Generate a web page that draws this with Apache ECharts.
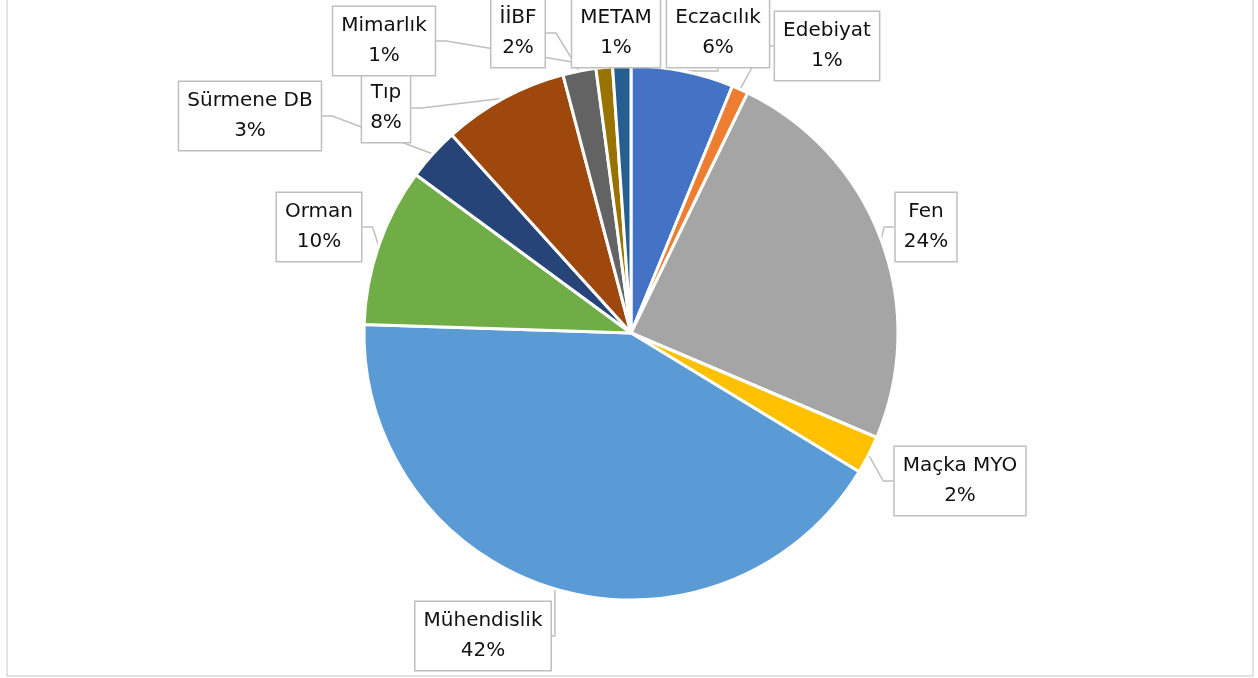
<!DOCTYPE html>
<html>
<head>
    <meta charset="utf-8">
    <title>Pasta grafik</title>
    <script src="https://cdn.jsdelivr.net/npm/echarts@6/dist/echarts.min.js"></script>
    <style>
        html, body { margin: 0; padding: 0; background: #ffffff; }
        #chart { width: 1258px; height: 678px; }
    </style>
</head>
<body>
    <div id="chart"></div>
    <script>
        // veriler (yüzde olarak okunmuş)
        var birimler = ['Eczacılık', 'Edebiyat', 'Fen', 'Maçka MYO', 'Mühendislik', 'Orman',
                        'Sürmene DB', 'Tıp', 'İİBF', 'Mimarlık', 'METAM'];
        var degerler = [6.2, 1.0, 24.2, 2.3, 41.8, 9.6, 3.2, 7.6, 2.0, 1.0, 1.1];
        var renkler = ['#4472C4', '#ED7D31', '#A5A5A5', '#FFC000', '#5B9BD5', '#70AD47',
                       '#264478', '#9E480E', '#636363', '#997300', '#255E91'];

        // etiket kutularının merkezleri
        var etiketYer = {
            0: [718, 33],
            1: [827, 46],
            2: [926, 227],
            3: [960, 481],
            4: [483, 636],
            5: [319, 227],
            6: [250, 116],
            7: [386, 108],
            8: [518, 33],
            9: [384, 41],
            10: [616, 33]
        };

        var chart = echarts.init(document.getElementById('chart'));

        var pieData = birimler.map(function (ad, i) {
            return { name: ad, value: degerler[i], itemStyle: { color: renkler[i] } };
        });

        var option = {
            backgroundColor: '#ffffff',
            animation: false,
            graphic: [{
                type: 'rect',
                shape: { x: 7, y: -10, width: 1246, height: 686 },
                style: { fill: 'none', stroke: '#d9d9d9', lineWidth: 1.5 },
                z: 0
            }],
            series: [{
                type: 'pie',
                center: [631, 333],
                radius: 267,
                startAngle: 90,
                clockwise: true,
                avoidLabelOverlap: false,
                data: pieData,
                itemStyle: {
                    borderColor: '#ffffff',
                    borderWidth: 3
                },
                label: {
                    show: true,
                    position: 'outside',
                    formatter: function (p) {
                        return p.name + '\n' + Math.round(p.percent) + '%';
                    },
                    fontFamily: 'DejaVu Sans',
                    fontSize: 20,
                    lineHeight: 30,
                    color: '#111111',
                    align: 'center',
                    backgroundColor: '#ffffff',
                    borderColor: '#bfbfbf',
                    borderWidth: 1.5,
                    padding: [4, 8, 4, 8]
                },
                labelLine: {
                    show: true,
                    length: 10,
                    length2: 10,
                    lineStyle: { color: '#bfbfbf', width: 1.5 }
                },
                labelLayout: function (params) {
                    var p = etiketYer[params.dataIndex];
                    return {
                        x: p[0],
                        y: p[1],
                        align: 'center',
                        verticalAlign: 'middle',
                        hideOverlap: false
                    };
                }
            }]
        };

        chart.setOption(option);

        window.onresize = function () {
            chart.resize();
        };
    </script>
</body>
</html>
